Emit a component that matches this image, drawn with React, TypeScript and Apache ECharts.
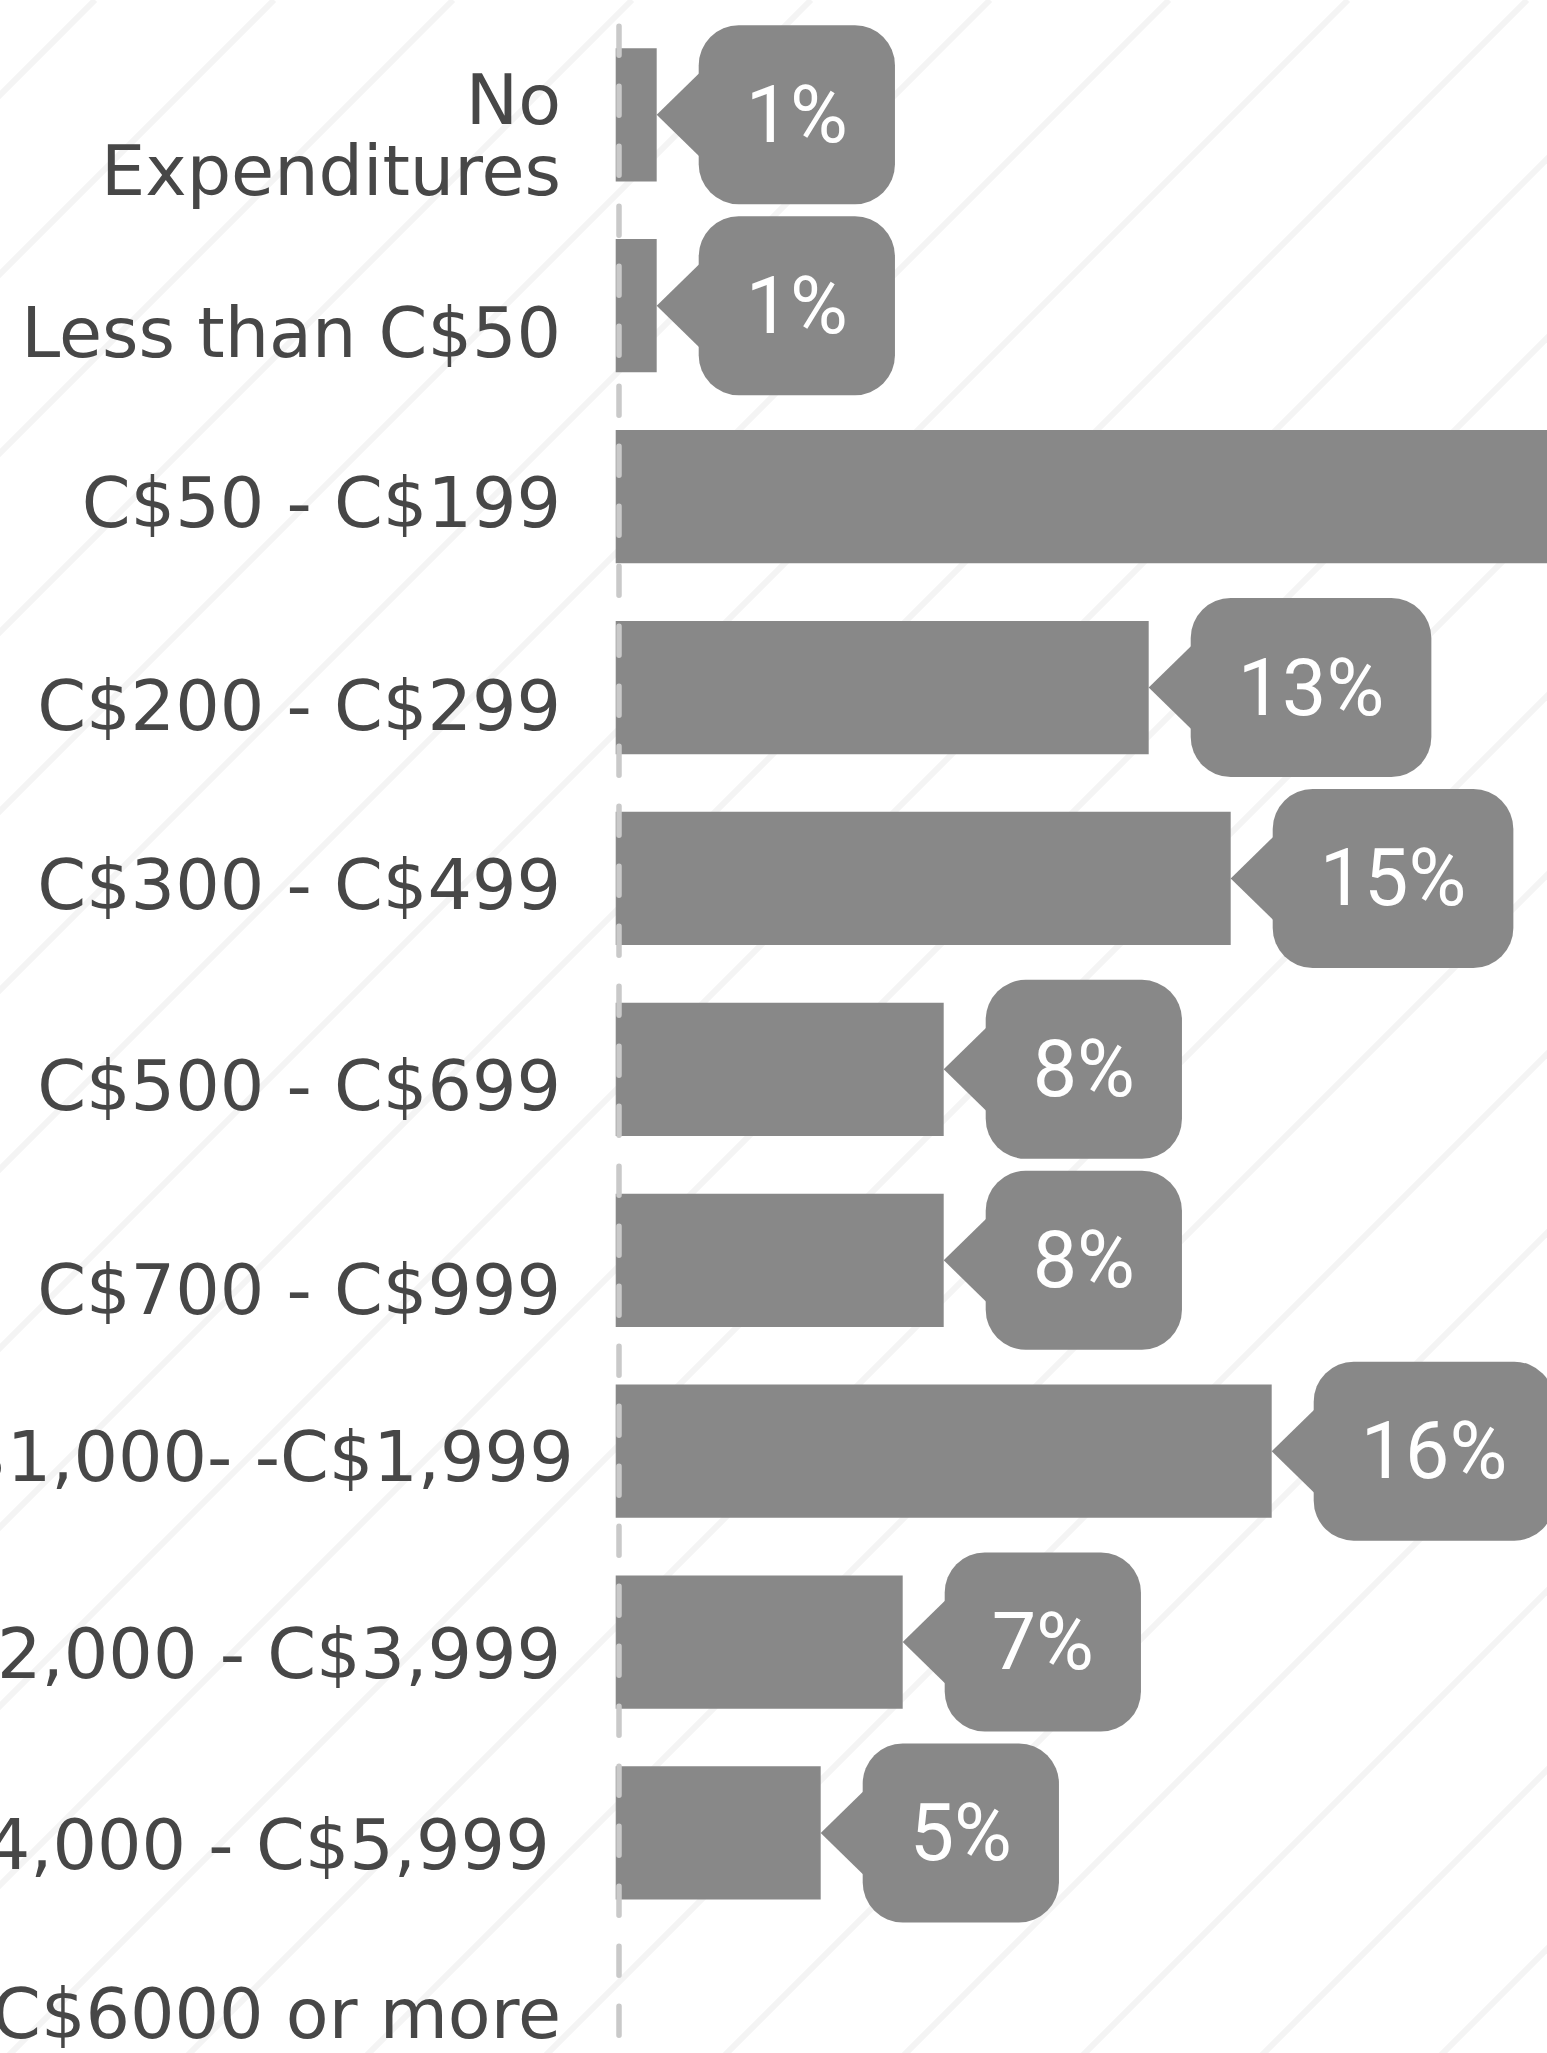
import React, { useEffect, useRef } from 'react';
import * as echarts from 'echarts';

// ---- data ----
const categories: string[] = [
  'No\nExpenditures',
  'Less than C$50',
  'C$50 - C$199',
  'C$200 - C$299',
  'C$300 - C$499',
  'C$500 - C$699',
  'C$700 - C$999',
  'C$1,000- -C$1,999',
  'C$2,000 - C$3,999',
  'C$4,000 - C$5,999',
  'C$6000 or more',
];
const shares: number[] = [1, 1, 26, 13, 15, 8, 8, 16, 7, 5, 0];

// ---- layout / style (not data) ----
const labelShiftY = [21, 27.7, 6.4, 18.8, 6.9, 16.6, 29.6, 6.3, 12, 11.6, -10.2];
const labelShiftX = [0, 0, 0, 0, 0, 0, 0, -12.7, 0, 11.3, 0];
const BASE_PAD_RIGHT = 12.7;
const CHART_W = 2100;
const CHART_H = 2140;
const BAR_COLOR = '#888888';
const TEXT_COLOR = '#474747';
const LABEL_FONT = 'DejaVu Sans';
const LABEL_SIZE = 70;
const LINE_H = 71;

function buildRich() {
  const rich: Record<string, any> = {};
  categories.forEach((cat, i) => {
    const s = labelShiftY[i];
    const pr = BASE_PAD_RIGHT + labelShiftX[i];
    const lines = cat.split('\n');
    const base = {
      fontFamily: LABEL_FONT,
      fontSize: LABEL_SIZE,
      color: TEXT_COLOR,
      lineHeight: LINE_H,
      align: 'right',
    };
    if (lines.length === 1) {
      rich[`l${i}`] = { ...base, padding: [Math.max(2 * s, 0), pr, Math.max(-2 * s, 0), 0] };
    } else {
      // spacer line above (or below) shifts the block
      rich[`l${i}sp`] = { fontSize: 4, lineHeight: Math.abs(2 * s), color: 'rgba(0,0,0,0)' };
      lines.forEach((_, j) => {
        rich[`l${i}_${j}`] = { ...base, padding: [0, pr, 0, 0] };
      });
    }
  });
  return rich;
}

function formatLabel(value: string, index: number) {
  const lines = value.split('\n');
  if (lines.length === 1) return `{l${index}|${value}}`;
  const body = lines.map((ln, j) => `{l${index}_${j}|${ln}}`);
  const spacer = `{l${index}sp|.}`;
  return (labelShiftY[index] >= 0 ? [spacer, ...body] : [...body, spacer]).join('\n');
}

function buildStripes() {
  const els: any[] = [];
  for (let c = 95; c < CHART_W + CHART_H + 179; c += 179) {
    els.push({
      type: 'line',
      silent: true,
      z: -10,
      shape: { x1: c, y1: 0, x2: c - CHART_H, y2: CHART_H },
      style: { stroke: '#f4f4f4', lineWidth: 6 },
    });
  }
  return els;
}

export default function App() {
  const ref = useRef<HTMLDivElement>(null);

  useEffect(() => {
    if (!ref.current) return;
    const chart = echarts.init(ref.current, null, { renderer: 'svg' });
    const option: any = {
      animation: false,
      backgroundColor: '#ffffff',
      graphic: { elements: buildStripes() },
      grid: {
        left: 615.7,
        top: 19.35,
        width: 1230,
        height: 2100,
        containLabel: false,
        outerBoundsMode: 'none',
      },
      xAxis: { type: 'value', min: 0, max: 30, show: false },
      yAxis: {
        type: 'category',
        data: categories,
        inverse: true,
        offset: -3,
        z: 5,
        axisLine: {
          show: true,
          lineStyle: { color: '#c9c9c9', width: 5.5, type: [29, 31], dashOffset: 52.65 },
        },
        axisTick: { show: false },
        splitLine: { show: false },
        axisLabel: {
          interval: 0,
          margin: 45,
          formatter: formatLabel,
          rich: buildRich(),
        },
      },
      series: [
        {
          type: 'bar',
          barCategoryGap: '30.2%',
          itemStyle: { color: BAR_COLOR },
          z: 2,
          data: shares.map((v) => ({ value: v, label: { show: v > 0 } })),
          label: {
            show: true,
            position: 'right',
            distance: 42,
            formatter: '{c}%',
            color: '#ffffff',
            fontFamily: 'Roboto',
            fontSize: 79,
            lineHeight: 79,
            backgroundColor: BAR_COLOR,
            borderRadius: 40,
            padding: [50, 47],
          },
        },
        {
          type: 'custom',
          z: 3,
          silent: true,
          encode: { x: 0, y: 1 },
          data: shares.map((v, i) => [v, i]),
          renderItem: (params: any, api: any) => {
            const v = api.value(0);
            if (!(v > 0)) return null;
            const p = api.coord([v, api.value(1)]);
            return {
              type: 'polygon',
              shape: {
                points: [
                  [p[0], p[1]],
                  [p[0] + 43, p[1] - 42],
                  [p[0] + 43, p[1] + 42],
                ],
              },
              style: { fill: BAR_COLOR },
            };
          },
        },
      ],
    };
    chart.setOption(option);
    return () => chart.dispose();
  }, []);

  return (
    <div
      style={{
        position: 'fixed',
        left: 0,
        top: 0,
        width: '100vw',
        height: '100vh',
        overflow: 'hidden',
        background: '#ffffff',
      }}
    >
      <div
        ref={ref}
        style={{ position: 'absolute', left: 0, top: 0, width: CHART_W, height: CHART_H }}
      />
    </div>
  );
}
